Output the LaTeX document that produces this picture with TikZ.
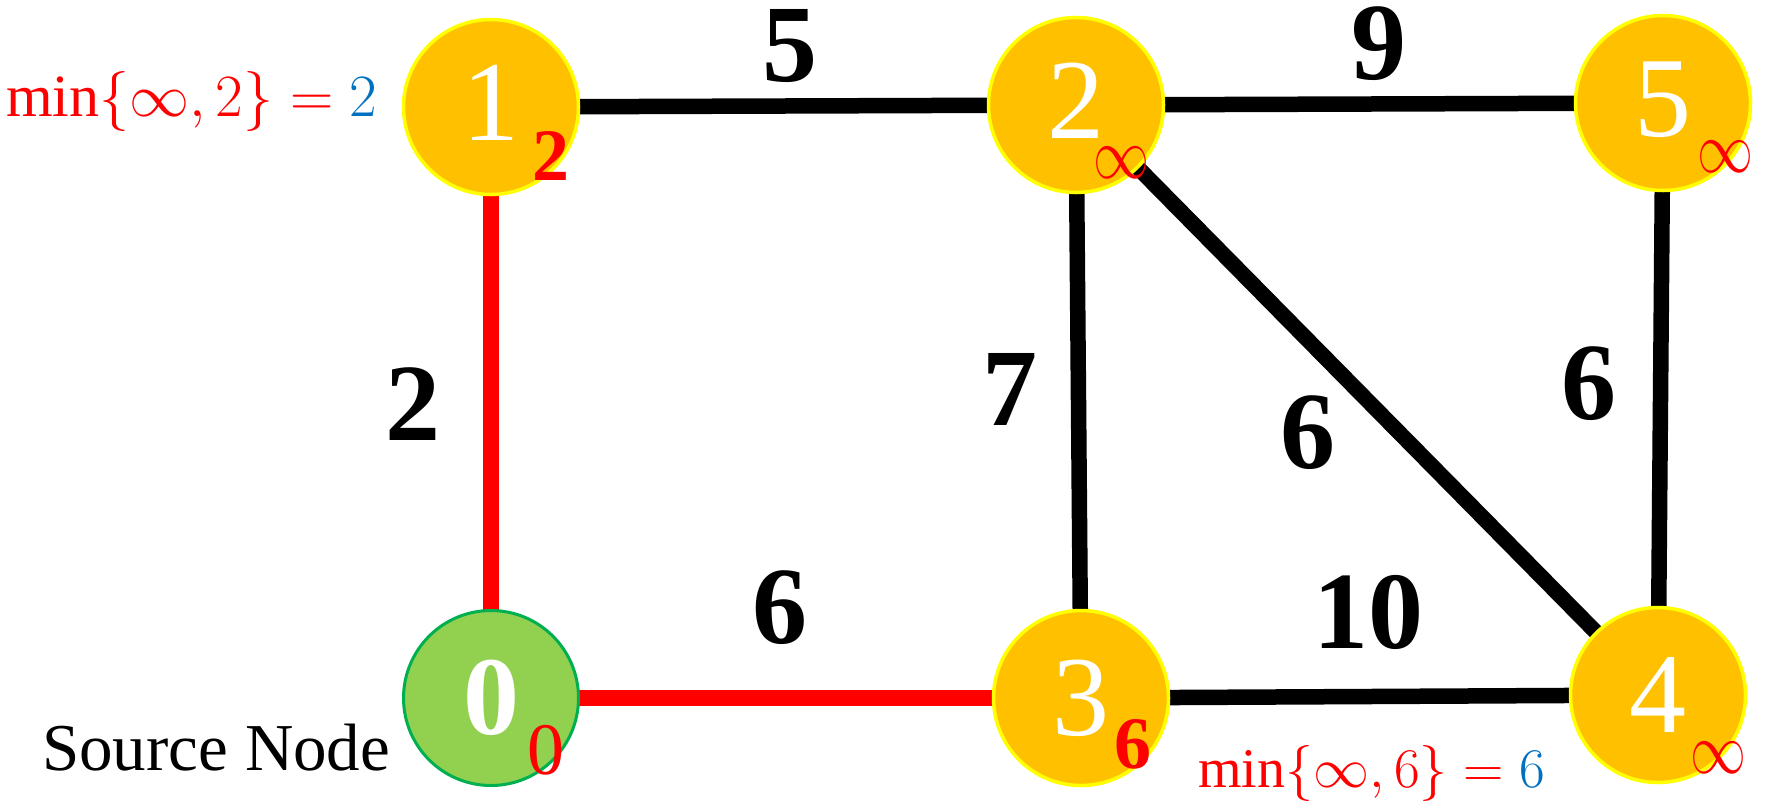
\documentclass[tikz,border=0pt]{standalone}
\usepackage{fix-cm}
\usepackage{fontspec}
\setmainfont{Liberation Serif}
\usetikzlibrary{backgrounds,calc}
\definecolor{gold}{HTML}{FFC000}
\definecolor{ylw}{HTML}{FFFF00}
\definecolor{lgreen}{HTML}{92D050}
\definecolor{dgreen}{HTML}{00B050}
\definecolor{myblue}{HTML}{0070C0}
\definecolor{myred}{HTML}{FF0000}
\begin{document}
\begin{tikzpicture}[x=1pt,y=-1pt,
  vtx/.style={circle, fill=gold, draw=ylw, line width=3.5pt, minimum size=175pt, inner sep=0pt, text=white, font=\fontsize{114}{114}\selectfont},
  topvtx/.style={vtx, text depth=8pt},
  src/.style={vtx, fill=lgreen, draw=dgreen, line width=3pt, font=\fontsize{112}{112}\selectfont\bfseries},
  edg/.style={line width=15.5pt, black},
  redg/.style={edg, myred},
  wlab/.style={inner sep=0pt, font=\fontsize{110}{110}\selectfont\bfseries},
  dist/.style={inner sep=0pt, text=myred, font=\fontsize{74}{74}\selectfont},
  bdist/.style={dist, font=\fontsize{74}{74}\selectfont\bfseries},
  inf/.style={inner sep=0pt, text=myred, font=\fontsize{56}{56}\selectfont},
  minlab/.style={inner sep=0pt, text=myred, font=\fontsize{56}{56}\selectfont},
]
\useasboundingbox (0,0) rectangle (1767,807);

% vertices
\node[topvtx] (n1) at (491,107) {1};
\node[topvtx] (n2) at (1076,105) {2};
\node[topvtx] (n5) at (1663,103) {5};
\node[src] (n0) at (491,698) {0};
\node[vtx] (n3) at (1081,698) {3};
\node[vtx] (n4) at (1658,695) {4};

% edges
\begin{scope}[on background layer]
\draw[edg] (n1.center) -- (n2.center);
\draw[edg] (n2.center) -- (n5.center);
\draw[redg] (n1.center) -- (n0.center);
\draw[redg] (n0.center) -- (n3.center);
\draw[edg] (n2.center) -- (n3.center);
\draw[edg] (n2.center) -- (n4.center);
\draw[edg] (n5.center) -- (n4.center);
\draw[edg] (n3.center) -- (n4.center);
\end{scope}

% edge weights
\node[wlab] (w12) at (790,46) {5};
\node[wlab] (w25) at (1379,44) {9};
\node[wlab] (w10) at (413,404) {2};
\node[wlab] (w23) at (1010,389) {7};
\node[wlab] (w24) at (1308,433) {6};
\node[wlab] (w54) at (1589,384) {6};
\node[wlab] (w03) at (780,608) {6};
\node[wlab] (w34) at (1368,612) {10};

% distances
\node[bdist] (d1) at ($(n1)+(60,49)$) {2};
\node[inf] (d2) at ($(n2)+(45,58)$) {\scalebox{1}[1.3]{$\infty$}};
\node[inf] (d5) at ($(n5)+(62,54)$) {\scalebox{1}[1.3]{$\infty$}};
\node[inf] (d4) at ($(n4)+(60,63)$) {\scalebox{1}[1.3]{$\infty$}};
\node[dist] (d0) at ($(n0)+(55,52)$) {0};
\node[bdist] (d3) at ($(n3)+(52,46)$) {6};

% annotations
\node[minlab, anchor=west, font=\fontsize{60}{60}\selectfont] (m1) at (6,101) {$\min\{\infty,2\}=\textcolor{myblue}{2}$};
\node[minlab, anchor=east] (m4) at (1545,773) {$\min\{\infty,6\}=\textcolor{myblue}{6}$};
\node[inner sep=0pt, anchor=base west, font=\fontsize{67}{67}\selectfont] (srcl) at (42,770) {Source Node};
\end{tikzpicture}
\end{document}
